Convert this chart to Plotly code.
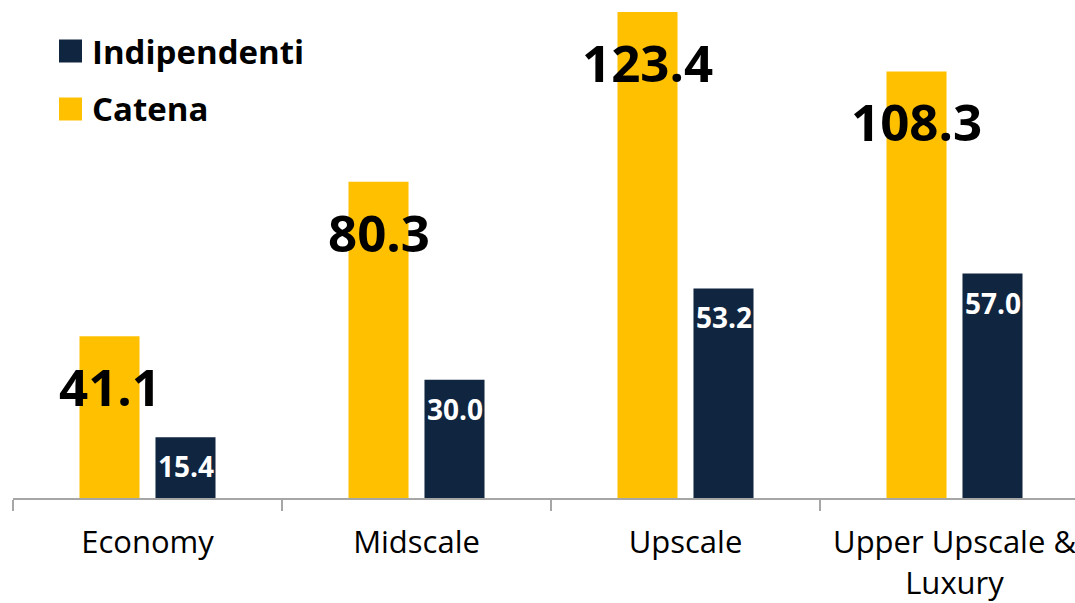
import plotly.graph_objects as go

# Categories and series values
categories = ["Economy", "Midscale", "Upscale", "Upper Upscale &<br>Luxury"]
catena = [41.1, 80.3, 123.4, 108.3]
indipendenti = [15.4, 30.0, 53.2, 57.0]

YELLOW = "#FFC000"
NAVY = "#10253F"
AXIS_GREY = "#A6A6A6"
FONT = "Open Sans"

W, H = 1075, 603
ML, MB, MT = 13, 105, 0
plot_w = W - ML
plot_h = H - MB - MT
cat_px = 269.0
y_top = max(catena) * plot_h / 486.0

fig = go.Figure()
fig.add_trace(go.Bar(name="Catena", x=categories, y=catena,
                     marker=dict(color=YELLOW, line=dict(width=0)),
                     showlegend=False))
fig.add_trace(go.Bar(name="Indipendenti", x=categories, y=indipendenti,
                     marker=dict(color=NAVY, line=dict(width=0)),
                     showlegend=False))

# Value labels
annotations = []
for c, v in zip(categories, catena):
    annotations.append(dict(x=c, y=v, xref="x", yref="y", text=f"<b>{v:.1f}</b>",
                            showarrow=False, xshift=-38, yshift=-50,
                            yanchor="middle", xanchor="center",
                            font=dict(family=FONT, size=51, color="black")))
for c, v in zip(categories, indipendenti):
    annotations.append(dict(x=c, y=v, xref="x", yref="y", text=f"<b>{v:.1f}</b>",
                            showarrow=False, xshift=38, yshift=-29,
                            yanchor="middle", xanchor="center",
                            font=dict(family=FONT, size=28, color="white")))

# Legend (top-left)
legend_items = [("Indipendenti", NAVY, 51), ("Catena", YELLOW, 109)]
shapes = []
for name, color, cy in legend_items:
    shapes.append(dict(type="rect", xref="paper", yref="paper",
                       x0=(59 - ML) / plot_w, x1=(82 - ML) / plot_w,
                       y0=(H - MB - (cy + 11.5)) / plot_h, y1=(H - MB - (cy - 11.5)) / plot_h,
                       fillcolor=color, line=dict(width=0)))
    annotations.append(dict(x=(91 - ML) / plot_w, y=(H - MB - cy) / plot_h,
                            xref="paper", yref="paper", text=f"<b>{name}</b>",
                            showarrow=False, xanchor="left", yanchor="middle",
                            borderpad=0,
                            font=dict(family=FONT, size=33, color="black")))

fig.update_layout(
    width=W, height=H,
    margin=dict(l=ML, r=0, t=MT, b=MB, pad=0),
    paper_bgcolor="white", plot_bgcolor="white",
    barmode="group", bargap=0.435, bargroupgap=0.21,
    showlegend=False,
    annotations=annotations, shapes=shapes,
    font=dict(family=FONT, color="black"),
)
fig.update_xaxes(
    type="category",
    range=[-0.5, -0.5 + plot_w / cat_px],
    showline=True, linecolor=AXIS_GREY, linewidth=2,
    ticks="outside", tickson="boundaries", ticklen=11, tickwidth=2, tickcolor=AXIS_GREY,
    ticklabelstandoff=16,
    tickfont=dict(family=FONT, size=31, color="black"),
    showgrid=False, zeroline=False,
)
fig.update_yaxes(range=[0, y_top], visible=False, showgrid=False, zeroline=False)

fig.write_html("out.html")
